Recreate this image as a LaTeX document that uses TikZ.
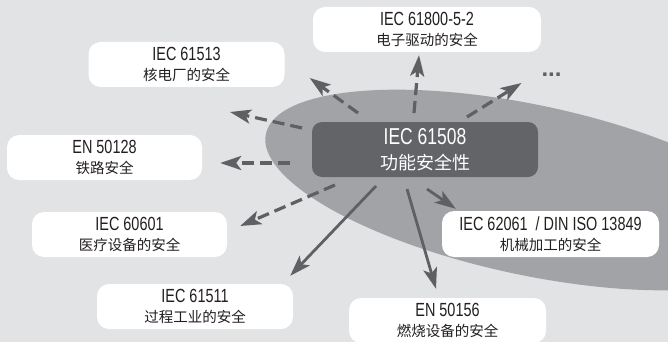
\documentclass[tikz,border=0pt]{standalone}
\usepackage{fontspec}
\setmainfont{Liberation Sans}[FakeStretch=0.76]
\newfontfamily\cjk{Noto Sans CJK SC}
\newfontfamily\dotfont{Liberation Sans}
\usetikzlibrary{arrows.meta}

\definecolor{bggray}{HTML}{E2E3E4}
\definecolor{ellgray}{HTML}{A2A3A6}
\definecolor{hubgray}{HTML}{636468}
\definecolor{arrgray}{HTML}{5F6063}
\definecolor{txtgray}{HTML}{231F20}

\newcommand{\zhline}[1]{{\cjk\fontsize{14.5}{20}\selectfont #1}}

\tikzstyle{stdbox}=[rectangle, rounded corners=12pt, fill=white, minimum width=196pt, minimum height=45pt, inner sep=0pt, align=center, text=txtgray, font=\fontsize{19}{20}\selectfont]
\tikzstyle{hub}=[rectangle, rounded corners=10pt, fill=hubgray, minimum width=226pt, minimum height=55pt, inner sep=0pt, align=center, text=white, font=\fontsize{23}{25}\selectfont]
\tikzstyle{arr}=[line width=2.8pt, draw=arrgray, -{Stealth[length=21pt, width=14pt, inset=5pt, fill=arrgray]}]
\tikzstyle{dasharr}=[arr, line width=3.2pt, dash pattern=on 12pt off 6pt]

\begin{document}
\begin{tikzpicture}[x=1pt, y=-1pt]
      \useasboundingbox (0,0) rectangle (668,342);
      \fill[bggray] (0,0) rectangle (668,342);
      \begin{scope}
        \clip (0,0) rectangle (668,342);
        \fill[ellgray, rotate around={-12:(530,190)}] (530,190) ellipse [x radius=270, y radius=85];
      \end{scope}

      \node[hub] (iec) at (425,149.5) {IEC 61508\\{\cjk\fontsize{18}{25}\selectfont 功能安全性}};

      \node[stdbox]                   (nuc)   at (186.5,64.5) {IEC 61513\\\zhline{核电厂的安全}};
      \node[stdbox, minimum width=228pt] (drive) at (427,29.5)   {IEC 61800-5-2\\\zhline{电子驱动的安全}};
      \node[stdbox, minimum width=195pt] (rail)  at (104.5,157.5) {EN 50128\\\zhline{铁路安全}};
      \node[stdbox, minimum width=195pt] (med)   at (129.5,234.5) {IEC 60601\\\zhline{医疗设备的安全}};
      \node[stdbox]                   (proc)  at (195,306.5)   {IEC 61511\\\zhline{过程工业的安全}};
      \node[stdbox, minimum width=197pt] (burn)  at (447.5,320.5) {EN 50156\\\zhline{燃烧设备的安全}};
      \node[stdbox, minimum width=217pt, minimum height=46pt] (mach) at (550.5,234) {IEC 62061\ \ / DIN ISO 13849\\\zhline{机械加工的安全}};
      \node[anchor=base, text=arrgray, font={\dotfont\fontsize{24}{24}\selectfont\bfseries}] (more) at (551.5,77) {...};

      \coordinate (gap) at (230,112);

      % dashed connectors
      \draw[dasharr] ([shift={(-67,-36.5)}]iec.center) -- ([shift={(25,13.5)}]nuc.east);
      \draw[dasharr] ([shift={(-123,-21.5)}]iec.center) -- (gap);
      \draw[dasharr] ([shift={(-11,-36.5)}]iec.center) -- ([shift={(-8,3)}]drive.south);
      \draw[dasharr] ([shift={(42,-32.5)}]iec.center) -- ([shift={(-30,6)}]more.base);
      \draw[dasharr] ([shift={(-135,13.5)}]iec.center) -- ([shift={(18,5.5)}]rail.east);
      \draw[dasharr] ([shift={(-90,35.5)}]iec.center) -- ([shift={(13,-8.5)}]med.east);
      % solid connectors
      \draw[arr] ([shift={(-49,36.5)}]iec.center) -- ([shift={(-3,-8)}]proc.north east);
      \draw[arr] ([shift={(-18,39.5)}]iec.center) -- ([shift={(-11.5,-9)}]burn.north);
      \draw[arr] ([shift={(2,39.5)}]iec.center) -- ([shift={(14,-2)}]mach.north west);
\end{tikzpicture}
\end{document}
